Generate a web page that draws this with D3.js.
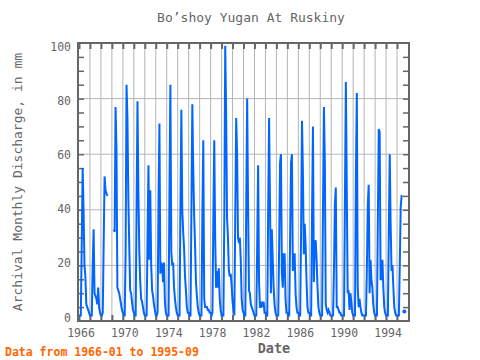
<!DOCTYPE html>
<html>
<head>
<meta charset="utf-8">
<script src="https://cdn.jsdelivr.net/npm/d3@7"></script>
<style>
  html, body { margin: 0; padding: 0; background: #fff; }
  svg { display: block; }
  text { font-family: "DejaVu Sans Mono", monospace; }
</style>
</head>
<body>
<svg id="chart" width="480" height="360"></svg>
<script>
// ---- data ----
const startYear = 1966;               // first month: 1966-01
const discharge = [
  /*1966*/ 2,2,2,28,55,40,20,16,6,5,4,3,
  /*1967*/ 2,2,2,20,33,10,9,8,6,12,5,3,
  /*1968*/ 2,2,3,28,52,47,46,45,null,null,null,null,
  /*1969*/ null,null,33,32,77,62,12,11,10,8,6,4,
  /*1970*/ 3,2,2,24,85,73,44,27,11,10,7,4,
  /*1971*/ 3,2,2,41,79,46,25,14,8,7,5,3,
  /*1972*/ 2,2,2,30,56,22,47,20,11,9,6,4,
  /*1973*/ 2,2,3,43,71,17,21,20,14,21,7,3,
  /*1974*/ 2,2,2,47,85,25,20,21,12,8,5,3,
  /*1975*/ 2,2,2,41,76,40,32,26,16,11,5,3,
  /*1976*/ 3,2,2,40,78,55,38,27,14,9,5,3,
  /*1977*/ 2,2,2,38,65,8,5,5,5,4,4,3,
  /*1978*/ 3,2,3,37,65,30,12,18,12,19,8,4,
  /*1979*/ 2,2,2,37,99,75,37,30,18,16,17,13,
  /*1980*/ 7,4,2,39,73,60,30,28,30,22,8,4,
  /*1981*/ 3,2,2,42,80,42,11,10,6,5,4,3,
  /*1982*/ 2,2,2,28,56,14,5,5,7,5,7,3,
  /*1983*/ 3,2,2,40,73,42,10,33,22,12,6,3,
  /*1984*/ 2,2,2,27,57,60,17,12,24,24,8,3,
  /*1985*/ 3,2,2,30,57,60,18,24,24,10,5,3,
  /*1986*/ 3,2,2,32,72,54,24,35,27,14,5,3,
  /*1987*/ 3,2,2,38,70,14,28,29,22,12,5,3,
  /*1988*/ 2,2,2,41,77,57,6,4,3,4,3,2,
  /*1989*/ 2,2,2,19,42,48,5,5,4,3,3,2,
  /*1990*/ 2,2,2,44,86,48,10,11,4,10,7,3,
  /*1991*/ 2,2,2,53,82,12,5,8,5,3,2,2,
  /*1992*/ 2,2,2,19,42,49,10,22,15,12,6,3,
  /*1993*/ 2,2,2,36,69,68,15,15,22,12,5,3,
  /*1994*/ 2,2,2,32,60,35,18,20,12,5,3,2,
  /*1995*/ 2,2,2,20,41,45,45,null,3.4
];
const yTicks = [0, 20, 40, 60, 80, 100];
const yMinorTicks = d3.range(5, 100, 5);
const xLabelYears = [1966, 1970, 1974, 1978, 1982, 1986, 1990, 1994];
const xYearTicks = d3.range(1966, 1996);
const titleText = "Bo\u2019shoy Yugan At Ruskiny";
const yTitle = "Archival Monthly Discharge, in mm";
const xTitle = "Date";
const footer = "Data from 1966-01 to 1995-09";

// ---- layout ----
const L = 78, R = 409, T = 43, B = 321;
const svg = d3.select("#chart");
const x = d3.scaleLinear().domain([1966, 1996]).range([79, 408]);
const y = d3.scaleLinear().domain([0, 100]).range([B, T]);
const yLab = d3.scaleLinear().domain([0, 100]).range([317.5, 46.5]);
const grey = "#666666";

const pts = discharge.map((v, i) => ({ t: startYear + i / 12, v }));

// grid
svg.append("g").selectAll("line.h").data(yTicks.filter(d => d > 0 && d < 100)).join("line")
  .attr("x1", L).attr("x2", R).attr("y1", d => y(d)).attr("y2", d => y(d))
  .attr("stroke", "#b4b4b4").attr("stroke-width", 1);
svg.append("g").selectAll("line.v").data(xYearTicks.filter(d => d > 1966)).join("line")
  .attr("x1", d => x(d)).attr("x2", d => x(d)).attr("y1", T).attr("y2", B)
  .attr("stroke", "#b4b4b4").attr("stroke-width", 1);

// inner year ticks (bottom and top)
function styleAxis(g) {
  g.select(".domain").remove();
  g.selectAll(".tick line").attr("stroke", grey).attr("stroke-width", 2);
}
svg.append("g").attr("transform", `translate(0,${B})`)
  .call(d3.axisBottom(x).tickValues(xYearTicks).tickSize(-6).tickFormat(""))
  .call(styleAxis);
svg.append("g").attr("transform", `translate(0,${T})`)
  .call(d3.axisTop(x).tickValues(xYearTicks).tickSize(-6).tickFormat(""))
  .call(styleAxis);
// inner y minor ticks (left and right)
svg.append("g").attr("transform", `translate(${L},0)`)
  .call(d3.axisLeft(y).tickValues(yMinorTicks).tickSize(-6).tickFormat(""))
  .call(g => { g.select(".domain").remove(); g.selectAll(".tick line").attr("stroke", grey).attr("stroke-width", 1.5); });
svg.append("g").attr("transform", `translate(${R},0)`)
  .call(d3.axisRight(y).tickValues(yMinorTicks).tickSize(-6).tickFormat(""))
  .call(g => { g.select(".domain").remove(); g.selectAll(".tick line").attr("stroke", grey).attr("stroke-width", 1.5); });

// labels
svg.append("g").attr("transform", `translate(0,${B})`)
  .call(d3.axisBottom(x).tickValues(xLabelYears).tickSize(0).tickPadding(8).tickFormat(d3.format("d")))
  .call(g => {
    g.select(".domain").remove();
    g.selectAll("text").attr("fill", grey).attr("font-size", "11.5px")
      .attr("font-family", "DejaVu Sans Mono").attr("dx", "1.5");
  });
svg.append("g").attr("transform", `translate(${L},0)`)
  .call(d3.axisLeft(yLab).tickValues(yTicks).tickSize(0).tickPadding(7))
  .call(g => {
    g.select(".domain").remove();
    g.selectAll("text").attr("fill", grey).attr("font-size", "11.5px")
      .attr("font-family", "DejaVu Sans Mono");
  });

// data line
const line = d3.line().defined(d => d.v != null).x(d => x(d.t)).y(d => y(d.v));
svg.append("path").datum(pts).attr("d", line)
  .attr("fill", "none").attr("stroke", "#0066ff").attr("stroke-width", 2)
  .attr("stroke-linejoin", "miter");
// isolated points
const isolated = pts.filter((d, i) => d.v != null &&
  (i === 0 || pts[i - 1].v == null) && (i === pts.length - 1 || pts[i + 1].v == null));
svg.append("g").selectAll("circle").data(isolated).join("circle")
  .attr("cx", d => x(d.t)).attr("cy", d => y(d.v)).attr("r", 2).attr("fill", "#0066ff");

// frame
svg.append("rect").attr("x", L).attr("y", T).attr("width", R - L).attr("height", B - T)
  .attr("fill", "none").attr("stroke", grey).attr("stroke-width", 2);

// titles
svg.append("text").attr("x", 251).attr("y", 22).attr("text-anchor", "middle")
  .attr("font-size", "13px").attr("fill", grey).text(titleText);
svg.append("text").attr("transform", "translate(17,182) rotate(-90)")
  .attr("text-anchor", "middle").attr("dy", "0.35em")
  .attr("font-size", "13px").attr("fill", grey).text(yTitle);
svg.append("text").attr("x", 274).attr("y", 353).attr("text-anchor", "middle")
  .attr("font-size", "13.5px").attr("font-weight", "bold").attr("fill", grey).text(xTitle);
svg.append("text").attr("x", 5).attr("y", 356)
  .attr("font-size", "11.5px").attr("font-weight", "bold").attr("fill", "#ff6600").text(footer);
</script>
</body>
</html>
